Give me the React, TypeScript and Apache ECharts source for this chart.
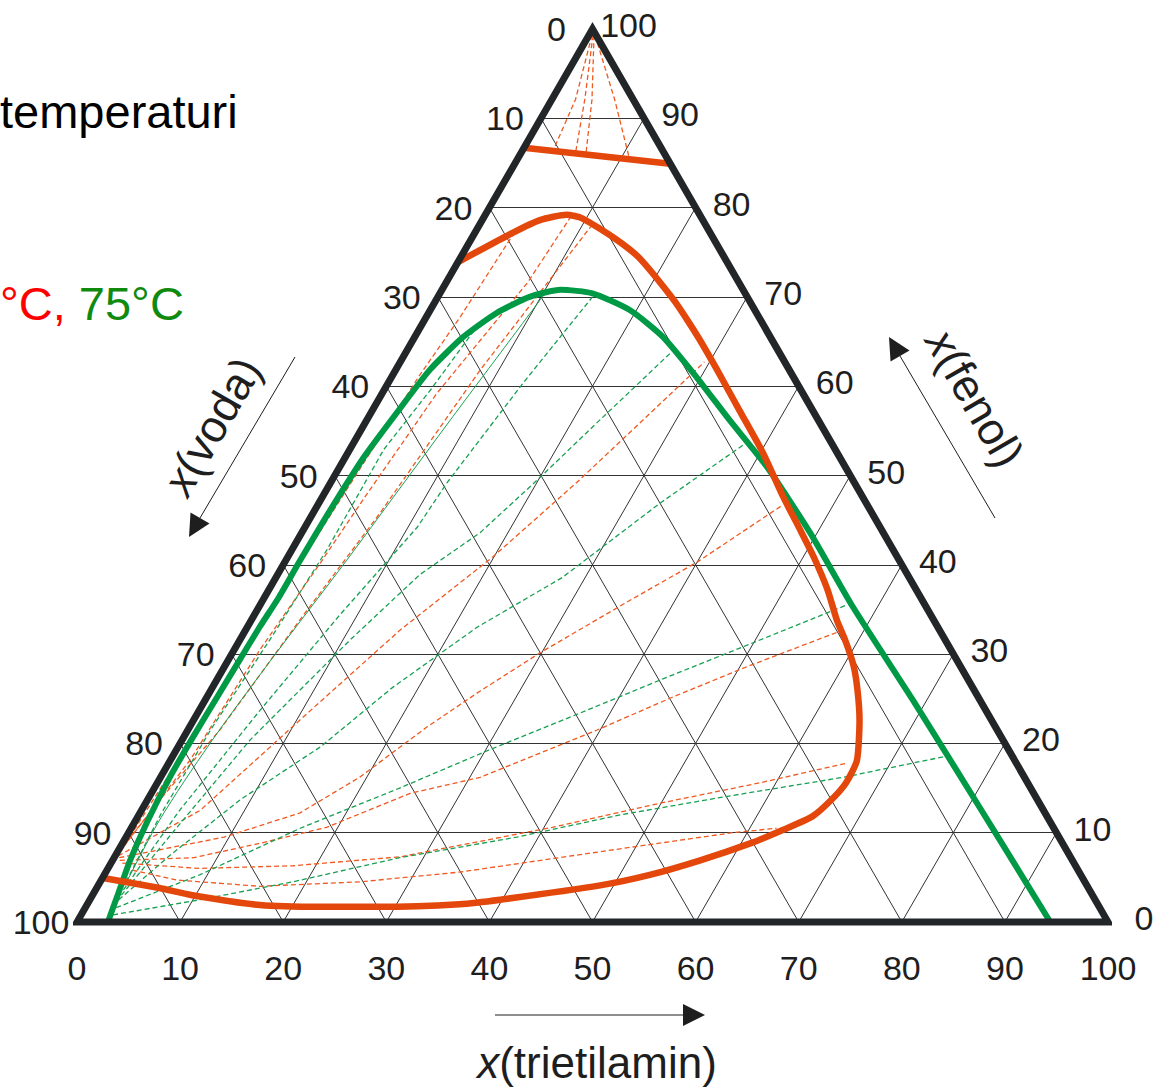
import React, { useEffect, useRef } from "react";
import * as echarts from "echarts";

type P = [number, number]; // [x(trietilamin) %, x(fenol) %]

const SQ = Math.sqrt(3) / 2;
const FONT = "'Liberation Sans', Arial, sans-serif";

// grid and tick values
const gridValues = [10, 20, 30, 40, 50, 60, 70, 80, 90];
const bottomTicks = [0, 10, 20, 30, 40, 50, 60, 70, 80, 90, 100]; // x(trietilamin)
const leftTicks = [0, 10, 20, 30, 40, 50, 60, 70, 80, 90, 100]; // x(voda)
const rightTicks = [0, 10, 20, 30, 40, 50, 60, 70, 80, 90, 100]; // x(fenol)

// binodal curve, lower temperature (red)
const redBinodal: P[] = [
  [0.2, 4.9], [6.1, 3.8], [9.7, 3.0], [16.8, 1.9], [22.7, 1.7], [28.5, 1.7], [36.1, 2.0],
  [39.8, 2.5], [48.7, 4.1], [53.0, 5.3], [57.0, 6.9], [60.9, 8.8], [63.3, 10.3], [65.4, 11.8],
  [66.3, 13.6], [66.8, 15.6], [66.6, 18.1], [64.6, 22.6], [62.7, 26.0], [60.9, 28.8],
  [58.7, 31.6], [56.8, 33.8], [54.2, 37.2], [51.0, 40.9], [48.2, 43.9], [44.7, 47.6],
  [40.3, 52.5], [35.6, 57.3], [31.2, 61.8], [27.8, 65.2], [25.5, 67.4], [23.0, 69.7],
  [17.3, 74.4], [13.8, 76.6], [9.6, 78.8], [7.9, 79.2], [5.6, 78.6], [3.7, 77.2], [0, 73.9],
];
const redUpper: P[] = [[0, 86.7], [15.1, 84.9]];

// binodal curve, 75 °C (green)
const greenBinodal: P[] = [
  [3.0, 0], [2.4, 3.2], [1.7, 6.9], [1.2, 11.2], [0.9, 16.2], [0.9, 20.7], [1.0, 25.2],
  [1.1, 29.3], [1.2, 33.0], [1.4, 36.4], [1.4, 40.5], [1.5, 46.1], [1.8, 52.1], [2.5, 57.0],
  [3.3, 61.8], [4.7, 65.5], [6.6, 68.2], [8.9, 70.0], [11.5, 70.8], [14.8, 70.4], [19.4, 68.5],
  [24.1, 65.5], [29.6, 61.0], [35.2, 56.2], [41.4, 51.0], [49.3, 43.6], [57.6, 35.3],
  [68.6, 24.9], [76.4, 17.4], [84.9, 9.2], [94.4, 0],
];

// tie lines (red, lower temperature)
const redTieLines: P[][] = [
  [[1.6, 6.0], [7.3, 4.7], [15.7, 4.0], [25.2, 4.5], [34.4, 5.6], [49.7, 8.4], [58.6, 10.0], [62.6, 10.5]],
  [[1.1, 6.6], [8.9, 6.0], [17.8, 6.3], [27.7, 7.3], [40.8, 10.6], [49.9, 13.3], [58.5, 15.6], [65.8, 17.8]],
  [[0.7, 6.9], [7.7, 7.2], [13.3, 8.8], [18.9, 10.6], [25.1, 14.4], [31.0, 16.2], [39.7, 21.5], [45.2, 25.2], [50.7, 28.6], [57.6, 32.5]],
  [[0.5, 7.2], [9.5, 9.5], [15.5, 12.2], [19.3, 16.2], [23.0, 21.8], [26.2, 25.9], [29.8, 30.1], [35.4, 35.8], [40.0, 40.3], [45.1, 46.7]],
  [[0.3, 7.4], [5.7, 12.5], [10.3, 22.6], [15.0, 32.7], [19.9, 40.9], [23.9, 49.3], [29.5, 62.7]],
  [[0.1, 7.6], [1.2, 13.7], [3.1, 21.5], [4.7, 33.8], [6.5, 45.8], [8.2, 61.8], [10.9, 77.9]],
  [[0.2, 7.8], [1.9, 18.1], [2.5, 30.5], [3.5, 40.2], [4.1, 47.3], [5.3, 59.2], [7.9, 71.6], [8.4, 79.0]],
  [[0.3, 8.0], [0.7, 17.0], [1.2, 29.3], [1.6, 41.7], [2.2, 53.2], [2.6, 61.0], [3.3, 67.8], [3.8, 77.0]],
  [[0.3, 99.3], [2.3, 92.1], [3.0, 86.3]],
  [[0.4, 99.3], [3.2, 92.1], [5.3, 86.1]],
  [[0.5, 99.3], [3.9, 92.1], [6.4, 85.9]],
  [[0.6, 99.3], [6.1, 92.1], [10.9, 85.4]],
];

// tie lines (green, 75 °C)
const greenTieLines: P[][] = [
  [[3.1, 0.8], [10.7, 2.5], [18.7, 4.5], [27.7, 7.2], [37.9, 9.5], [46.7, 12.0], [55.7, 14.0], [66.2, 16.2], [74.8, 18.5]],
  [[3.0, 1.6], [9.3, 5.3], [16.4, 10.5], [23.8, 15.0], [30.4, 19.3], [37.1, 23.4], [43.5, 27.4], [49.5, 31.0], [56.9, 35.5]],
  [[2.8, 2.5], [5.3, 7.5], [9.0, 13.7], [13.8, 19.6], [17.5, 26.3], [22.3, 33.0], [27.8, 38.6], [33.1, 46.9], [37.9, 53.4]],
  [[2.8, 3.0], [4.2, 9.7], [6.6, 20.4], [10.7, 31.6], [13.8, 38.9], [17.3, 43.6], [19.9, 49.5], [22.6, 56.2], [25.7, 63.7]],
  [[2.7, 3.6], [3.7, 12.5], [5.9, 23.7], [8.3, 34.4], [10.9, 44.2], [11.3, 49.2], [13.1, 60.4], [15.0, 70.0]],
  [[2.5, 4.5], [2.1, 12.0], [2.2, 21.5], [2.9, 31.6], [3.4, 41.7], [3.3, 52.9], [4.5, 59.6], [5.4, 66.3]],
];
const greenSolidLine: P[] = [[2.6, 4.1], [2.3, 11.4], [2.9, 20.0], [4.2, 29.7], [5.9, 40.5], [8.1, 56.2], [10.2, 70.4]];

const triangle: P[] = [[50, 0], [100, 0], [0, 100], [0, 0], [50, 0]];

const toXY = (p: P): number[] => [p[0] + p[1] / 2, p[1] * SQ];

const RED = "#E4470B";
const GREEN = "#009A46";
const TIE_RED = "#EE5A22";
const TIE_GREEN = "#18A052";
const INK = "#1e1e1e";

export default function App() {
  const ref = useRef<HTMLDivElement>(null);

  useEffect(() => {
    if (!ref.current) return;
    const chart = echarts.init(ref.current, null, { renderer: "svg" });

    const gridLines: { coords: number[][] }[] = [];
    gridValues.forEach((k) => {
      gridLines.push({ coords: [toXY([0, k]), toXY([100 - k, k])] });
      gridLines.push({ coords: [toXY([k, 0]), toXY([k, 100 - k])] });
      gridLines.push({ coords: [toXY([100 - k, 0]), toXY([0, 100 - k])] });
    });

    const tickLabel = (offset: number[]) => ({
      show: true,
      position: "inside",
      offset,
      formatter: (p: any) => String(p.value[2]),
      fontSize: 34,
      fontFamily: FONT,
      color: INK,
      textBorderWidth: 0,
      opacity: 1,
    });

    const curve = (name: string, data: P[], color: string, width: number, z: number) => ({
      name,
      type: "line",
      data: data.map(toXY),
      showSymbol: false,
      symbol: "none",
      smooth: 0.2,
      clip: false,
      silent: true,
      z,
      lineStyle: { color, width, cap: "butt", join: "round" },
    });

    const labelSeries = (data: number[][], offset: number[]) => ({
      type: "scatter",
      data,
      symbolSize: 1,
      itemStyle: { color: "rgba(0,0,0,0)" },
      silent: true,
      z: 6,
      label: tickLabel(offset),
    });

    const option: any = {
      animation: false,
      backgroundColor: "#ffffff",
      grid: { left: 77, top: 29, width: 1031, height: 893 },
      xAxis: { type: "value", min: 0, max: 100, show: false },
      yAxis: { type: "value", min: 0, max: 100 * SQ, show: false },
      series: [
        {
          type: "lines",
          coordinateSystem: "cartesian2d",
          data: gridLines,
          silent: true,
          clip: false,
          z: 1,
          lineStyle: { color: "#333333", width: 1, opacity: 1 },
        },
        {
          type: "lines",
          coordinateSystem: "cartesian2d",
          polyline: true,
          data: redTieLines.map((l) => ({ coords: l.map(toXY) })),
          silent: true,
          clip: false,
          z: 2,
          lineStyle: { color: TIE_RED, width: 1.3, opacity: 1, type: [5, 3] },
        },
        {
          type: "lines",
          coordinateSystem: "cartesian2d",
          polyline: true,
          data: greenTieLines.map((l) => ({ coords: l.map(toXY) })),
          silent: true,
          clip: false,
          z: 2,
          lineStyle: { color: TIE_GREEN, width: 1.3, opacity: 1, type: [5, 3] },
        },
        {
          type: "line",
          data: greenSolidLine.map(toXY),
          showSymbol: false,
          symbol: "none",
          smooth: 0.3,
          clip: false,
          silent: true,
          z: 2,
          lineStyle: { color: TIE_GREEN, width: 1 },
        },
        curve("75 °C", greenBinodal, GREEN, 6, 3),
        curve("niža temperatura", redBinodal, RED, 6.5, 4),
        curve("niža temperatura (gornja)", redUpper, RED, 6.5, 4),
        {
          type: "line",
          data: triangle.map(toXY),
          showSymbol: false,
          symbol: "none",
          clip: false,
          silent: true,
          z: 5,
          lineStyle: { color: "#232628", width: 7, join: "miter", cap: "butt" },
        },
        labelSeries(bottomTicks.map((k) => [...toXY([k, 0]), k]), [0, 46]),
        labelSeries(leftTicks.map((k) => [...toXY([0, 100 - k]), k]), [-36, 0]),
        labelSeries(rightTicks.map((k) => [...toXY([100 - k, k]), k]), [36, -4]),
      ],
      graphic: [
        {
          type: "text",
          x: 0,
          y: 111,
          style: { text: "temperaturi", fontSize: 47, fontFamily: FONT, fill: "#000", align: "left", verticalAlign: "middle" },
        },
        {
          type: "text",
          x: 0,
          y: 303,
          style: {
            text: "{r|°C, }{g|75°C}",
            fontSize: 47,
            fontFamily: FONT,
            align: "left",
            verticalAlign: "middle",
            rich: {
              r: { fill: "#FF0000", fontSize: 47, fontFamily: FONT },
              g: { fill: "#0F8A0F", fontSize: 47, fontFamily: FONT },
            },
          },
        },
        {
          type: "text",
          x: 212,
          y: 426,
          rotation: Math.PI / 3,
          style: {
            text: "{i|x}{n|(voda)}",
            align: "center",
            verticalAlign: "middle",
            rich: {
              i: { fontStyle: "italic", fontSize: 45, fontFamily: FONT, fill: INK },
              n: { fontSize: 45, fontFamily: FONT, fill: INK },
            },
          },
        },
        {
          type: "text",
          x: 975,
          y: 398,
          rotation: -Math.PI / 3,
          style: {
            text: "{i|x}{n|(fenol)}",
            align: "center",
            verticalAlign: "middle",
            rich: {
              i: { fontStyle: "italic", fontSize: 45, fontFamily: FONT, fill: INK },
              n: { fontSize: 45, fontFamily: FONT, fill: INK },
            },
          },
        },
        {
          type: "text",
          x: 597,
          y: 1062,
          style: {
            text: "{i|x}{n|(trietilamin)}",
            align: "center",
            verticalAlign: "middle",
            rich: {
              i: { fontStyle: "italic", fontSize: 44, fontFamily: FONT, fill: INK },
              n: { fontSize: 44, fontFamily: FONT, fill: INK },
            },
          },
        },
        { type: "line", shape: { x1: 295, y1: 357, x2: 200, y2: 518 }, style: { stroke: INK, lineWidth: 1 } },
        { type: "polygon", shape: { points: [[189, 537], [209.5, 523.6], [190.5, 512.4]] }, style: { fill: INK } },
        { type: "line", shape: { x1: 995, y1: 518, x2: 900, y2: 356 }, style: { stroke: INK, lineWidth: 1 } },
        { type: "polygon", shape: { points: [[889, 337], [909.5, 350.4], [890.5, 361.6]] }, style: { fill: INK } },
        { type: "line", shape: { x1: 495, y1: 1015, x2: 686, y2: 1015 }, style: { stroke: INK, lineWidth: 1 } },
        { type: "polygon", shape: { points: [[705, 1015], [683, 1004], [683, 1026]] }, style: { fill: INK } },
      ],
    };

    chart.setOption(option);
    return () => chart.dispose();
  }, []);

  return (
    <div
      ref={ref}
      style={{ position: "absolute", left: 0, top: 0, width: 1158, height: 1087 }}
    />
  );
}
